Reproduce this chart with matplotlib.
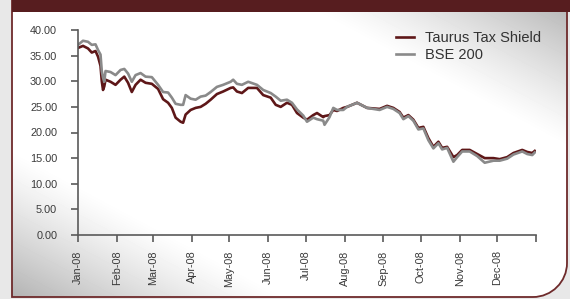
import numpy as np
import pandas as pd
import matplotlib
matplotlib.use("Agg")
import matplotlib.pyplot as plt
from matplotlib.path import Path
from matplotlib.patches import PathPatch, Rectangle

plt.rcParams['font.family'] = ['Liberation Sans', 'DejaVu Sans']

# ---------------------------------------------------------------- data
dates = pd.to_datetime([
    "2008-01-01", "2008-01-05", "2008-01-09", "2008-01-12", "2008-01-15", "2008-01-17",
    "2008-01-19", "2008-01-20", "2008-01-21", "2008-01-22", "2008-01-23", "2008-01-27",
    "2008-01-31", "2008-02-04", "2008-02-07", "2008-02-10", "2008-02-13", "2008-02-16",
    "2008-02-20", "2008-02-24", "2008-02-29", "2008-03-05", "2008-03-09", "2008-03-13",
    "2008-03-16", "2008-03-19", "2008-03-23", "2008-03-25", "2008-03-27", "2008-03-31",
    "2008-04-04", "2008-04-08", "2008-04-12", "2008-04-16", "2008-04-21", "2008-04-26",
    "2008-05-02", "2008-05-04", "2008-05-07", "2008-05-11", "2008-05-16", "2008-05-23",
    "2008-05-28", "2008-06-03", "2008-06-07", "2008-06-11", "2008-06-16", "2008-06-20",
    "2008-06-24", "2008-06-29", "2008-07-02", "2008-07-07", "2008-07-10", "2008-07-15",
    "2008-07-16", "2008-07-20", "2008-07-23", "2008-07-26", "2008-07-31", "2008-08-03",
    "2008-08-11", "2008-08-19", "2008-08-29", "2008-09-04", "2008-09-09", "2008-09-14",
    "2008-09-17", "2008-09-21", "2008-09-25", "2008-09-29", "2008-10-03", "2008-10-07",
    "2008-10-11", "2008-10-15", "2008-10-18", "2008-10-22", "2008-10-27", "2008-10-30",
    "2008-11-03", "2008-11-09", "2008-11-15", "2008-11-21", "2008-11-28", "2008-12-03",
    "2008-12-09", "2008-12-14", "2008-12-21", "2008-12-25", "2008-12-29", "2008-12-31",
])

taurus = [
    36.5, 36.9, 36.4, 35.6, 35.9, 34.8,
    33.0, 30.0, 28.3, 29.0, 30.3, 29.9,
    29.3, 30.3, 30.9, 29.7, 27.9, 29.3,
    30.3, 29.7, 29.5, 28.5, 26.5, 25.8,
    24.8, 22.9, 22.1, 21.9, 23.5, 24.4,
    24.8, 25.0, 25.6, 26.4, 27.5, 28.0,
    28.7, 28.8, 28.0, 27.7, 28.7, 28.7,
    27.3, 26.8, 25.4, 25.0, 25.8, 25.4,
    23.8, 22.9, 22.5, 23.4, 23.8, 23.0,
    23.2, 23.4, 24.4, 24.2, 24.8, 25.0,
    25.8, 24.8, 24.6, 25.2, 24.8, 24.0,
    22.9, 23.4, 22.5, 20.9, 21.1, 18.9,
    17.2, 18.2, 17.0, 17.2, 15.2, 15.6,
    16.6, 16.6, 15.8, 15.0, 15.0, 14.8,
    15.2, 16.0, 16.6, 16.2, 16.0, 16.4,
]

bse200 = [
    37.1, 37.9, 37.7, 37.1, 37.2, 36.1,
    35.2, 32.0, 30.7, 29.9, 32.0, 31.8,
    31.2, 32.2, 32.4, 31.5, 29.9, 31.2,
    31.6, 30.9, 30.8, 29.3, 27.9, 27.8,
    26.8, 25.6, 25.4, 25.4, 27.3, 26.6,
    26.4, 27.0, 27.2, 27.9, 28.9, 29.3,
    29.9, 30.3, 29.5, 29.3, 29.9, 29.3,
    28.3, 27.7, 27.0, 26.2, 26.4, 25.8,
    24.5, 23.3, 22.1, 22.9, 22.6, 22.3,
    21.5, 23.0, 24.8, 24.4, 24.4, 25.0,
    25.8, 24.8, 24.4, 25.0, 24.6, 23.8,
    22.6, 23.2, 22.3, 20.6, 20.8, 18.5,
    16.9, 17.9, 16.7, 17.0, 14.3, 15.2,
    16.3, 16.3, 15.4, 14.1, 14.5, 14.5,
    14.9, 15.7, 16.3, 15.8, 15.6, 16.1,
]

series_names = ["Taurus Tax Shield", "BSE 200"]
month_ticks = pd.date_range("2008-01-01", "2009-01-01", freq="MS")
month_labels = [d.strftime("%b-%y") for d in month_ticks[:-1]] + [""]
y_ticks = np.arange(0, 45, 5)

# ---------------------------------------------------------------- figure + panel
W, H = 570, 299
fig = plt.figure(figsize=(W / 100, H / 100), dpi=100)
fig.patch.set_facecolor("#e8e8e8")

bg = fig.add_axes([0, 0, 1, 1])
bg.set_xlim(0, W)
bg.set_ylim(H, 0)
bg.axis("off")

# panel outline with rounded bottom-right corner
L, R, T, B, r = 12, 567, 0, 297, 34
k = 0.55 * r
verts = [(L, T), (R, T), (R, B - r), (R, B - r + k), (R - r + k, B), (R - r, B), (L, B), (L, T)]
codes = [Path.MOVETO, Path.LINETO, Path.LINETO, Path.CURVE4, Path.CURVE4, Path.CURVE4,
         Path.LINETO, Path.CLOSEPOLY]
panel = PathPatch(Path(verts, codes), facecolor="none", edgecolor="#6e2a2b", lw=1.3, zorder=3)
bg.add_patch(panel)

# diagonal white -> grey gradient
xx, yy = np.meshgrid(np.arange(W) + 0.5, np.arange(H) + 0.5)
u = np.abs((yy - T) / (B - T) - (xx - L) / (R - L))
shade = 1 - 0.3 * np.clip((u - 0.5) / 0.5, 0, 1) ** 1.2
im = bg.imshow(shade, cmap="gray", vmin=0, vmax=1, extent=(0, W, H, 0),
               interpolation="bilinear", zorder=1)
im.set_clip_path(panel)

# header band
bg.add_patch(Rectangle((L, 0), W - L, 12, facecolor="#571d1f", edgecolor="none", zorder=4))

# ---------------------------------------------------------------- chart
ax = fig.add_axes([78 / W, 1 - 235 / H, (536 - 78) / W, (235 - 30) / H])
ax.set_facecolor("none")

ax.plot(dates, taurus, color="#5e1718", lw=1.9, label=series_names[0])
ax.plot(dates, bse200, color="#8a8a8a", lw=1.9, label=series_names[1])

ax.set_xlim(month_ticks[0], month_ticks[-1])
ax.set_ylim(0, 40)
ax.set_xticks(month_ticks)
ax.set_xticklabels(month_labels, rotation=90)
ax.set_yticks(y_ticks)
ax.set_yticklabels(["%.2f" % v for v in y_ticks])

for side in ["top", "right"]:
    ax.spines[side].set_visible(False)
for side in ["left", "bottom"]:
    ax.spines[side].set_color("#5a5a5a")
    ax.spines[side].set_linewidth(1.2)

ax.tick_params(axis="both", direction="out", length=5, width=1.2, color="#5a5a5a",
               labelcolor="#3a3a3a", labelsize=7.8)
ax.tick_params(axis="y", pad=10)
ax.tick_params(axis="x", pad=6)

ax.legend(loc="upper left", bbox_to_anchor=(389 / W, 1 - 24 / H),
          bbox_transform=fig.transFigure, frameon=False, fontsize=10.5,
          handlelength=1.2, handletextpad=0.75, labelspacing=0.2, borderpad=0,
          labelcolor="#333333")

fig.savefig("out.png", dpi=100, facecolor=fig.get_facecolor())
